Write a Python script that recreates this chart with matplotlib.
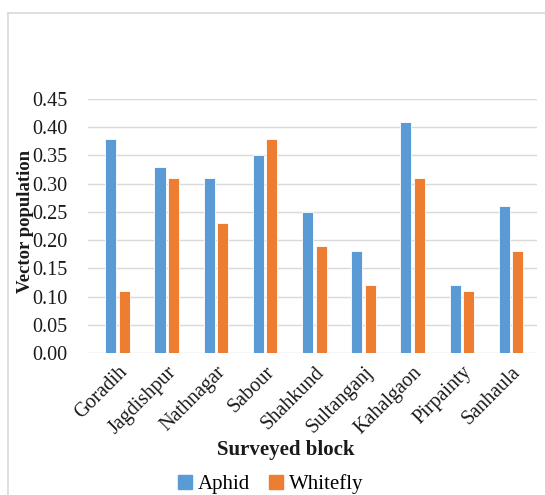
import matplotlib.pyplot as plt
import numpy as np
from matplotlib.lines import Line2D

plt.rcParams["font.family"] = ["Liberation Serif", "DejaVu Serif"]

blocks = ["Goradih", "Jagdishpur", "Nathnagar", "Sabour", "Shahkund",
          "Sultanganj", "Kahalgaon", "Pirpainty", "Sanhaula"]
aphid = [0.38, 0.33, 0.31, 0.35, 0.25, 0.18, 0.41, 0.12, 0.26]
whitefly = [0.11, 0.31, 0.23, 0.38, 0.19, 0.12, 0.31, 0.11, 0.18]
y_ticks = [0.00, 0.05, 0.10, 0.15, 0.20, 0.25, 0.30, 0.35, 0.40, 0.45]

BLUE = "#5B9BD5"
ORANGE = "#ED7D31"
GRID = "#D9D9D9"
TEXT = "#1a1a1a"

fig = plt.figure(figsize=(5.45, 4.95), dpi=100)
ax = fig.add_axes([0.1615, 0.2869, 0.8238, 0.5131])

x = np.arange(len(blocks))
width = 0.224
offset = 0.137
ax.bar(x - offset, aphid, width, color=BLUE, edgecolor="white", linewidth=0.6,
       label="Aphid", zorder=3)
ax.bar(x + offset, whitefly, width, color=ORANGE, edgecolor="white", linewidth=0.6,
       label="Whitefly", zorder=3)

ax.set_xlim(-0.60, 8.526)
ax.set_ylim(0, 0.45)
ax.set_yticks(y_ticks)
ax.set_yticklabels([f"{v:.2f}" for v in y_ticks], fontsize=14.5, color=TEXT)
ax.set_xticks(x)
ax.set_xticklabels(blocks, rotation=45, ha="right", rotation_mode="anchor",
                   fontsize=14.5, color=TEXT)
ax.tick_params(axis="both", length=0)
ax.tick_params(axis="y", pad=15)
ax.tick_params(axis="x", pad=7)

for side in ["top", "right", "left", "bottom"]:
    ax.spines[side].set_visible(False)
ax.grid(axis="y", color=GRID, linewidth=1, zorder=0)
ax.set_axisbelow(True)

fig.text(0.046, 0.553, "Vector population", rotation=90, ha="center", va="center",
         fontsize=13.5, fontweight="bold", color=TEXT)
fig.text(0.525, 0.09, "Surveyed block", ha="center", va="center",
         fontsize=15, fontweight="bold", color=TEXT)

handles = [plt.Rectangle((0, 0), 1, 1, color=BLUE),
           plt.Rectangle((0, 0), 1, 1, color=ORANGE)]
fig.legend(handles, ["Aphid", "Whitefly"], loc="center", bbox_to_anchor=(0.497, 0.022),
           ncol=2, frameon=False, fontsize=15, handlelength=0.65, handleheight=0.65,
           handletextpad=0.3, columnspacing=0.9)

# thin frame lines along the top and left
fig.add_artist(Line2D([8 / 545, 1], [1 - 13 / 495, 1 - 13 / 495], color=GRID,
                      linewidth=1.2, transform=fig.transFigure))
fig.add_artist(Line2D([8 / 545, 8 / 545], [0, 1 - 13 / 495], color=GRID,
                      linewidth=1.2, transform=fig.transFigure))

fig.savefig("out.png", dpi=100)
